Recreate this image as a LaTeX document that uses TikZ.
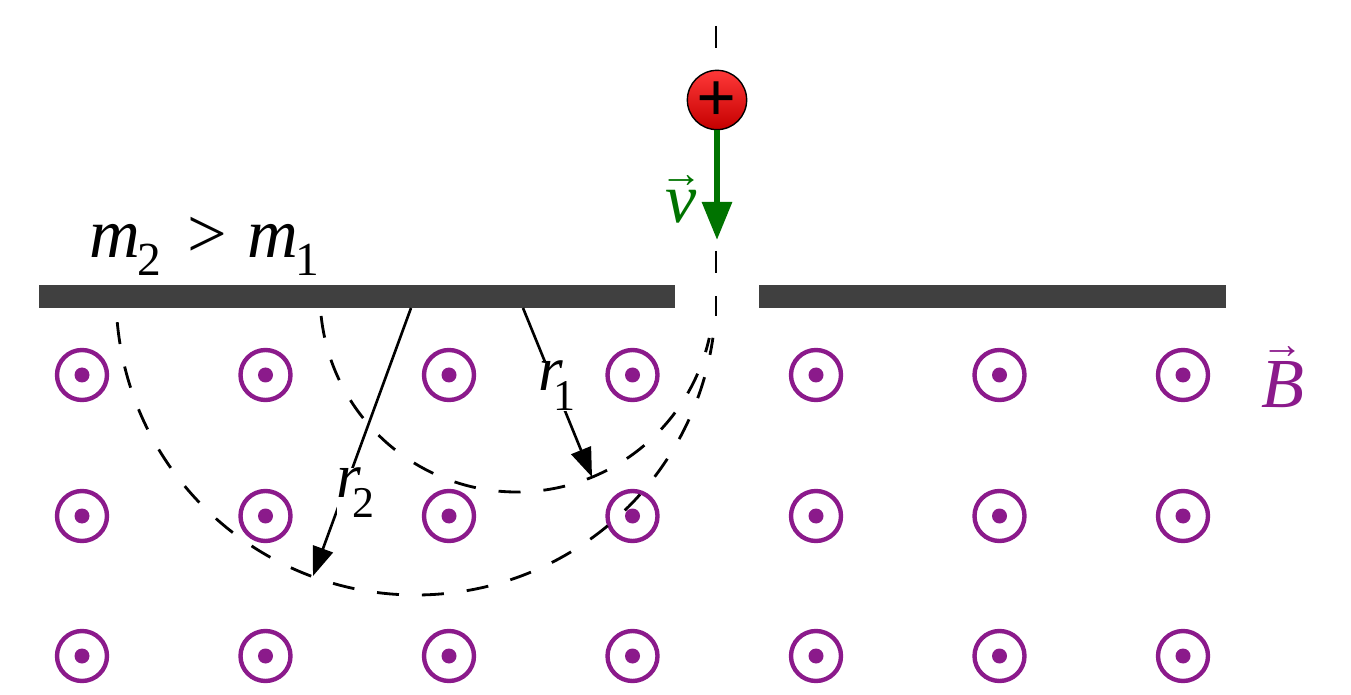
\documentclass[tikz,border=0pt]{standalone}
\usepackage{fontspec}
\setmainfont{Liberation Serif}
\usetikzlibrary{arrows.meta}
\definecolor{bpurple}{RGB}{139,26,139}
\definecolor{vgreen}{RGB}{0,115,0}
\definecolor{plategray}{RGB}{64,64,64}
\newcommand{\bigtext}{\fontsize{40}{44}\selectfont}
\newcommand{\midtext}{\fontsize{36}{40}\selectfont}
\newcommand{\subnum}[1]{\kern-0.04em\raisebox{-0.25em}{\fontsize{27}{27}\selectfont #1}}
\newcommand{\subr}[1]{\kern-0.15em\raisebox{-0.32em}{\fontsize{25}{25}\selectfont #1}}
\newcommand{\vecit}[1]{$\stackrel{\mbox{\fontsize{24}{24}\selectfont\bfseries →}}{\mbox{\textit{#1}}}$}
\tikzset{
    bring/.style={circle,draw=bpurple,line width=2.5pt,minimum size=1cm,inner sep=0pt,
        path picture={\fill[bpurple] (path picture bounding box.center) circle (0.15);}},
    plate/.style={fill=plategray,draw=none},
    track/.style={line width=1.6pt,dash pattern=on 0.44cm off 0.46cm},
    rline/.style={line width=1.5pt,-{Triangle[length=0.58cm,width=0.42cm]}},
    biglabel/.style={font=\bigtext,inner sep=0pt},
    rlabel/.style={font=\midtext,inner sep=0pt,fill=white}
}
\begin{document}
\begin{tikzpicture}
        \useasboundingbox (0,0) rectangle (27.02,13.88);

        \node[bring] (b11) at (1.64,6.38) {}; \node[bring] (b12) at (5.31,6.38) {};
        \node[bring] (b13) at (8.98,6.38) {}; \node[bring] (b14) at (12.65,6.38) {};
        \node[bring] (b15) at (16.32,6.38) {}; \node[bring] (b16) at (19.99,6.38) {};
        \node[bring] (b17) at (23.66,6.38) {};

        \node[bring] (b21) at (1.64,3.56) {}; \node[bring] (b22) at (5.31,3.56) {};
        \node[bring] (b23) at (8.98,3.56) {}; \node[bring] (b24) at (12.65,3.56) {};
        \node[bring] (b25) at (16.32,3.56) {}; \node[bring] (b26) at (19.99,3.56) {};
        \node[bring] (b27) at (23.66,3.56) {};

        \node[bring] (b31) at (1.64,0.76) {}; \node[bring] (b32) at (5.31,0.76) {};
        \node[bring] (b33) at (8.98,0.76) {}; \node[bring] (b34) at (12.65,0.76) {};
        \node[bring] (b35) at (16.32,0.76) {}; \node[bring] (b36) at (19.99,0.76) {};
        \node[bring] (b37) at (23.66,0.76) {};

        \draw[track] (14.32,13.36) -- (14.32,7.56);
        \draw[track] (10.34,7.98) ++(186.1:3.94) arc[start angle=186.1,end angle=347.4,radius=3.94];
        \draw[track] (8.32,7.98) ++(185.2:6) arc[start angle=185.2,end angle=351.8,radius=6];

        \fill[plate] (0.78,7.72) rectangle (13.5,8.18);
        \fill[plate] (15.18,7.72) rectangle (24.52,8.18);

        \coordinate (r1start) at (10.46,7.72);
        \coordinate (r1end) at (11.84,4.34);
        \coordinate (r2start) at (8.22,7.72);
        \coordinate (r2end) at (6.26,2.36);
        \draw[rline] (r1start) -- node[pos=0.46,rlabel,xshift=0.04cm] (r1label) {\textit{r}\subr{1}} (r1end);
        \draw[rline] (r2start) -- node[pos=0.69,rlabel,xshift=0.24cm] (r2label) {\textit{r}\subr{2}} (r2end);

        \node[circle,draw=black,line width=0.8pt,minimum size=1.14cm,inner sep=0pt,
            top color={rgb,255:red,255;green,56;blue,56},bottom color={rgb,255:red,196;green,0;blue,0},
            font=\bigtext\bfseries,text height=0.88cm,text depth=-0.28cm] (ball) at (14.34,11.88) {+};
        \coordinate (vtip) at (14.34,9.08);
        \draw[vgreen,line width=0.12cm,-{Triangle[length=0.76cm,width=0.58cm]}] (ball) -- (vtip);

        \node[biglabel,text=vgreen,anchor=base] (vlabel) at (13.63,9.42) {\vecit{v}};
        \node[biglabel,anchor=base west] (masses) at (1.78,8.72)
            {\textit{m}\subnum{2}\kern0.38em>\kern0.28em\textit{m}\subnum{1}};
        \node[biglabel,text=bpurple,anchor=base] (blabel) at (25.65,5.72) {\vecit{B}};
\end{tikzpicture}
\end{document}
